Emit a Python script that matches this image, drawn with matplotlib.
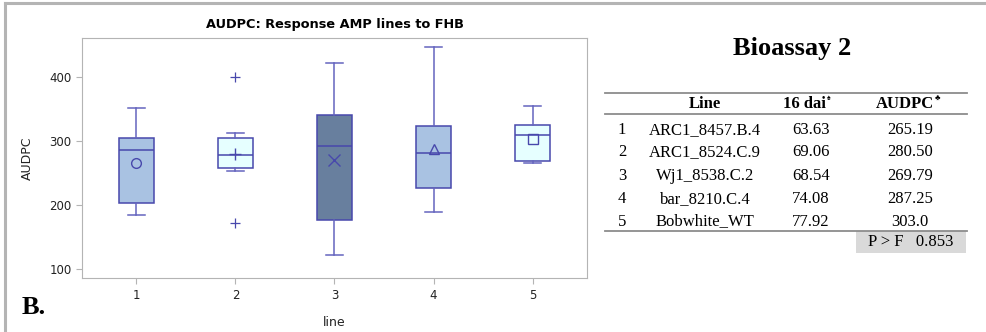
import matplotlib.pyplot as plt
from matplotlib.lines import Line2D
from matplotlib.patches import Rectangle

# box statistics
lines = [1, 2, 3, 4, 5]
whislo = [184, 253, 123, 189, 265]
q1 = [204, 258, 177, 226, 269]
med = [286, 278, 292, 282, 310]
q3 = [304, 304, 341, 324, 325]
whishi = [352, 313, 421, 447, 354]
means = [265.19, 280.50, 269.79, 287.25, 303.0]
fliers = [[], [399, 172], [], [], []]
mean_markers = ['o', '+', 'x', '^', 's']
fills = ['#A9C2E2', '#E6FFFF', '#687F9E', '#A9C2E2', '#E6FFFF']

# table
line_names = ['ARC1_8457.B.4', 'ARC1_8524.C.9', 'Wj1_8538.C.2', 'bar_8210.C.4', 'Bobwhite_WT']
dai16 = ['63.63', '69.06', '68.54', '74.08', '77.92']
audpc = ['265.19', '280.50', '269.79', '287.25', '303.0']
p_value = '0.853'

edge = '#4848AC'
whisk = '#6464BE'
grey = '#B4B4B4'

fig = plt.figure(figsize=(9.87, 3.32), dpi=100)
ax = fig.add_axes([0.0831, 0.1617, 0.5116, 0.7247])

stats = []
for i in range(len(lines)):
    stats.append(dict(med=med[i], q1=q1[i], q3=q3[i], whislo=whislo[i],
                      whishi=whishi[i], fliers=fliers[i], label=str(lines[i])))

bp = ax.bxp(stats, positions=lines, widths=0.35, patch_artist=True,
            showfliers=True, capwidths=0.18,
            boxprops=dict(edgecolor=edge, linewidth=1.1),
            medianprops=dict(color=edge, linewidth=1.1),
            whiskerprops=dict(color=whisk, linewidth=1.1),
            capprops=dict(color=whisk, linewidth=1.1),
            flierprops=dict(marker='+', markeredgecolor=edge, markersize=7,
                            markeredgewidth=0.9, linestyle='none'))
for patch, c in zip(bp['boxes'], fills):
    patch.set_facecolor(c)

for x, m, mk in zip(lines, means, mean_markers):
    ax.plot(x, m, marker=mk, markersize=8 if mk in ('+', 'x') else 7,
            markerfacecolor='none', markeredgecolor=edge, markeredgewidth=1.0,
            linestyle='none')

ax.set_xlim(0.45, 5.55)
ax.set_ylim(86, 461)
ax.set_yticks([100, 200, 300, 400])
ax.set_xticks(lines)
ax.set_xticklabels([str(l) for l in lines])
for s in ax.spines.values():
    s.set_color(grey)
ax.tick_params(colors=grey, labelcolor='#222222', labelsize=8.5, length=4)
ax.set_ylabel('AUDPC', fontsize=9, color='#222222', labelpad=11)
ax.set_xlabel('line', fontsize=9, color='#222222', labelpad=10)
ax.set_title('AUDPC: Response AMP lines to FHB', fontsize=9.3, fontweight='bold', pad=7)

# outer frame (top and left only)
fig.add_artist(Line2D([5 / 987, 1], [1 - 3 / 332, 1 - 3 / 332], color=grey, lw=2.2))
fig.add_artist(Line2D([5 / 987, 5 / 987], [0, 1 - 3 / 332], color=grey, lw=2.2))

fig.text(22 / 987, 1 - 308 / 332, 'B.', fontsize=19, fontweight='bold',
         family='Liberation Serif', va='center', ha='left')

W, H = 987, 332
def fx(px): return px / W
def fy(py): return 1 - py / H

serif = 'Liberation Serif'
sym = ['Liberation Serif', 'DejaVu Sans']
fs = 12
fig.text(fx(792), fy(48), 'Bioassay 2', fontsize=19, fontweight='bold',
         family=serif, ha='center', va='center')

for yline in (92.7, 114, 231):
    fig.add_artist(Line2D([fx(605), fx(967)], [fy(yline), fy(yline)], color='#8C8C8C', lw=1.3))

fig.add_artist(Rectangle((fx(856), fy(253)), fx(966) - fx(856), fy(231) - fy(253),
                         facecolor='#D9D9D9', edgecolor='none'))
fig.text(fx(911), fy(242.5), 'P > F   ' + p_value, fontsize=fs, family=serif,
         ha='center', va='center')

hy = fy(103.5)
fig.text(fx(705), hy, 'Line', fontsize=fs, fontweight='bold', family=serif, ha='center', va='center')
fig.text(fx(826), hy, '16 dai', fontsize=fs, fontweight='bold', family=serif, ha='right', va='center')
fig.text(fx(827), fy(98), '\u2660', fontsize=5, family=sym, ha='left', va='center')
fig.text(fx(934), hy, 'AUDPC', fontsize=fs, fontweight='bold', family=serif, ha='right', va='center')
fig.text(fx(935), fy(98), '\u2663', fontsize=6, family=sym, ha='left', va='center')

row_y = [130, 152.5, 175.5, 199, 221.5]
for i in range(len(line_names)):
    y = fy(row_y[i])
    fig.text(fx(622), y, str(lines[i]), fontsize=fs, family=serif, ha='center', va='center')
    fig.text(fx(705), y, line_names[i], fontsize=fs, family=serif, ha='center', va='center')
    fig.text(fx(811), y, dai16[i], fontsize=fs, family=serif, ha='center', va='center')
    fig.text(fx(910), y, audpc[i], fontsize=fs, family=serif, ha='center', va='center')

fig.savefig('out.png', dpi=100)
